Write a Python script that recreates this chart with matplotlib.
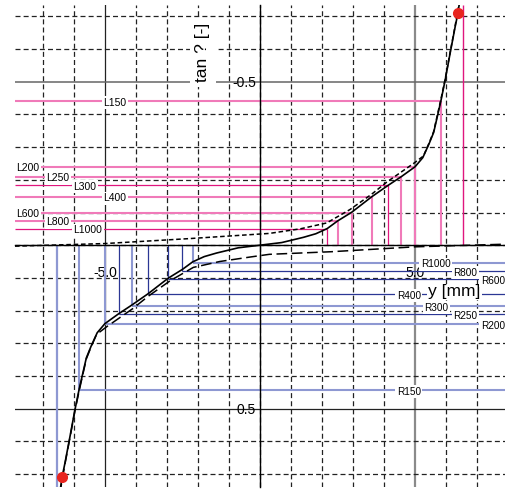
import numpy as np
import matplotlib.pyplot as plt

plt.rcParams['font.family'] = ['Liberation Sans', 'DejaVu Sans']

# main curve: y [mm] vs tan
curve_y = [-6.46, -6.38, -6.29, -6.13, -5.97, -5.83, -5.60, -5.45, -5.25, -5.00,
           -4.56, -4.13, -3.60, -2.96, -2.50, -2.17, -1.80, -1.40, -0.70, 0.00,
           0.70, 1.40, 1.80, 2.17, 2.50, 2.96, 3.60, 4.13, 4.56, 5.00,
           5.25, 5.45, 5.60, 5.83, 5.97, 6.13, 6.29, 6.38, 6.46]
curve_t = [0.760, 0.709, 0.667, 0.587, 0.505, 0.440, 0.345, 0.310, 0.268, 0.240,
           0.210, 0.183, 0.148, 0.101, 0.074, 0.051, 0.035, 0.024, 0.008, 0.000,
           -0.008, -0.024, -0.035, -0.051, -0.074, -0.101, -0.148, -0.183, -0.210, -0.240,
           -0.268, -0.310, -0.345, -0.440, -0.505, -0.587, -0.667, -0.709, -0.760]

# upper dashed branch
upper_y = [-7.90, -5.00, -2.30, 0.30, 1.30, 2.15, 2.90, 3.60, 4.10, 4.95,
           5.27, 5.45, 5.60, 5.83, 5.97, 6.13, 6.29, 6.46]
upper_t = [0.003, -0.005, -0.020, -0.036, -0.050, -0.068, -0.109, -0.156, -0.194, -0.250,
           -0.273, -0.312, -0.348, -0.445, -0.508, -0.590, -0.670, -0.762]

# lower long-dashed branch
lower_y = [-6.46, -6.29, -6.13, -5.97, -5.83, -5.60, -5.45, -5.27, -4.95, -4.10,
           -3.60, -2.90, -2.15, -1.30, -0.30, 0.30, 2.30, 5.00, 7.90]
lower_t = [0.762, 0.670, 0.590, 0.508, 0.445, 0.348, 0.312, 0.273, 0.250, 0.194,
           0.156, 0.109, 0.068, 0.050, 0.036, 0.028, 0.020, 0.005, -0.003]

radii = ['150', '200', '250', '300', '400', '600', '800', '1000']
L_y = [5.83, 5.00, 4.56, 4.13, 3.60, 2.96, 2.50, 2.17]
L_t = [-0.440, -0.240, -0.209, -0.183, -0.148, -0.100, -0.074, -0.050]
R_y = [-5.83, -5.00, -4.55, -4.12, -3.60, -2.96, -2.50, -2.17]
R_t = [0.443, 0.242, 0.211, 0.186, 0.150, 0.104, 0.079, 0.054]

end_y = [-6.38, 6.38]
end_t = [0.709, -0.709]
limit_y = 6.56

# styles / label layout
pink_light, pink_dark = '#f07ab9', '#e0167e'
blue_light, blue_dark = '#8e98d2', '#2b3794'
L_col = [pink_light, pink_light, pink_light, pink_dark, pink_light, pink_light, pink_light, pink_dark]
R_col = [blue_light, blue_light, blue_dark, blue_light, blue_dark, blue_dark, blue_dark, blue_light]
L_lab_x = [-5.10, -7.90, -6.94, -6.06, -5.10, -7.90, -6.94, -6.06]
R_lab_x = [4.41, 7.12, 6.24, 5.30, 4.41, 7.12, 6.24, 5.18]

xmin, xmax = -7.9, 7.9
tmin, tmax = -0.735, 0.74
white = dict(facecolor='white', edgecolor='none', boxstyle='square,pad=0.15')

fig = plt.figure(figsize=(5.05, 4.95), dpi=100)
ax = fig.add_axes([15 / 505, 8 / 495, 490 / 505, 482 / 495])
ax.set_xlim(xmin, xmax)
ax.set_ylim(tmax, tmin)

# grid
ax.set_xticks(np.arange(-7, 8), minor=True)
ax.set_yticks(np.round(np.arange(-0.7, 0.71, 0.1), 1), minor=True)
ax.grid(which='minor', color='#222222', lw=0.9, linestyle=(0, (4, 2.5)))
ax.set_xticks([-5, 5], labels=['-5.0', '5.0'], fontweight='bold', fontsize=11,
              bbox=white)
ax.set_yticks([-0.5, 0.5], labels=['-0.5', '0.5'], fontweight='bold', fontsize=11,
              bbox=white)
ax.tick_params(which='both', length=0)
ax.tick_params(axis='x', pad=15)
ax.tick_params(axis='y', pad=3)

ax.axvline(-5, color='#222222', lw=0.9, zorder=1)
ax.axvline(5, color='#8a8a8a', lw=1.6, zorder=1)
ax.axhline(-0.5, color='#666666', lw=1.1, zorder=1)
ax.axhline(0.5, color='#222222', lw=0.9, zorder=1)

for s in ['top', 'right']:
    ax.spines[s].set_visible(False)
ax.spines['left'].set_position(('data', 0))
ax.spines['bottom'].set_position(('data', 0))
ax.spines['left'].set_linewidth(1.0)
ax.spines['bottom'].set_linewidth(1.0)

# L lines (pink) and R lines (blue)
for i in range(len(radii)):
    lw_l = 1.5 if L_col[i] == pink_light else 0.9
    ax.hlines(L_t[i], xmin, L_y[i], color=L_col[i], lw=lw_l, zorder=2)
    ax.vlines(L_y[i], L_t[i], 0, color=L_col[i], lw=lw_l, zorder=2)
    ax.text(L_lab_x[i] + 0.05, L_t[i] + 0.004, 'L' + radii[i], fontsize=7.5, ha='left',
            va='center', bbox=white, zorder=3)
    lw_r = 1.5 if R_col[i] == blue_light else 0.9
    ax.hlines(R_t[i], R_y[i], xmax, color=R_col[i], lw=lw_r, zorder=2)
    ax.vlines(R_y[i], 0, R_t[i], color=R_col[i], lw=lw_r, zorder=2)
    ax.text(R_lab_x[i], R_t[i] + 0.005, 'R' + radii[i], fontsize=7.2, ha='left',
            va='center', bbox=white, zorder=3)

ax.vlines(limit_y, tmin, 0, color=pink_dark, lw=1.0, zorder=2)
ax.vlines(-limit_y, 0, tmax, color=blue_light, lw=1.6, zorder=2)

# curves
ax.plot(upper_y, upper_t, color='black', lw=1.1, linestyle=(0, (3, 1.8)), zorder=4)
ax.plot(lower_y, lower_t, color='black', lw=1.1, linestyle=(0, (7, 3)), zorder=4)
ax.plot(curve_y, curve_t, color='black', lw=1.2, zorder=5)
ax.plot(end_y, end_t, 'o', color='#e8251f', markersize=7, zorder=6)

ax.text(-1.84, -0.59, 'tan ? [-]', rotation=90, fontsize=12.5, ha='center', va='center',
        bbox=dict(facecolor='white', edgecolor='none', boxstyle='square,pad=0.3'), zorder=6)
ax.text(6.27, 0.143, 'y [mm]', fontsize=12.5, ha='center', va='center',
        bbox=dict(facecolor='white', edgecolor='none', boxstyle='square,pad=0.05'), zorder=2.8)

plt.savefig('out.png', dpi=100)
